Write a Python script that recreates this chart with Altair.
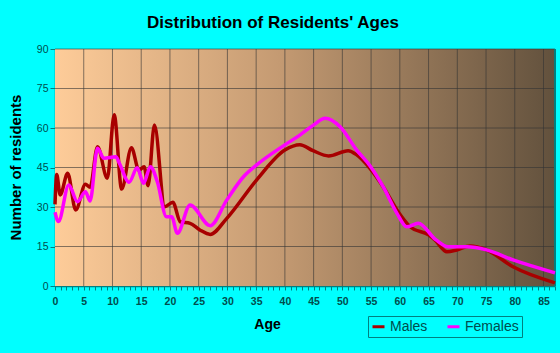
import altair as alt
import pandas as pd

# ---- data ----
males_age = [0, 0.3, 0.9, 2.2, 3.6, 5.3, 6.1, 7.4, 9.1, 10.3, 11.6, 13.3, 14.6, 15.5,
             16.2, 17.3, 19.1, 20.5, 21.8, 23.5, 25.2, 27.0, 29.9, 35.1, 40.0, 42.6,
             44.9, 47.6, 51.0, 52.5, 54.8, 57.1, 59.5, 61.8, 65.0, 66.1, 68.2, 69.9,
             72.2, 75.1, 79.7, 87.0]
males_val = [31, 42.3, 34.6, 42.8, 28.9, 38.6, 37.5, 52.9, 40.9, 65, 36.8, 52.5, 44, 45.3,
             38.1, 61.1, 30.1, 31.8, 24.4, 23.8, 21.3, 19.6, 25.7, 40.3, 51.6, 53.6,
             51.4, 49.4, 51.4, 49.8, 44.7, 37.7, 28.9, 22.5, 19.4, 17.5, 13.0, 13.7,
             15.2, 13.7, 7.3, 1.2]

females_age = [0, 0.6, 2.4, 3.9, 5.3, 6.1, 7.4, 8.5, 10.6, 11.2, 12.9, 14.3, 15.4, 16.6,
               17.8, 19.4, 20.3, 21.3, 23.5, 27.0, 29.9, 32.8, 35.1, 40.0, 42.6, 44.9,
               47.0, 49.6, 52.5, 54.8, 57.1, 59.5, 61.2, 63.2, 66.3, 68.4, 71.7, 75.1,
               79.7, 87.0]
females_val = [28, 24.5, 38.4, 32, 35.8, 32.3, 52.3, 48.5, 49.1, 46.6, 39.4, 44.9, 39, 45.3,
               39.6, 26.3, 26.3, 20, 30.8, 22.9, 32.7, 41.5, 46, 53.6, 57.3, 61,
               63.7, 60.5, 51.6, 45.7, 37.7, 27.6, 22.5, 23.8, 17.5, 14.9, 14.9, 13.7,
               9.9, 5.0]

series = ["Males", "Females"]
series_colors = ["#A80000", "#FF00FF"]

x_ticks = list(range(0, 88))
x_grid = list(range(5, 86, 5))
y_ticks = list(range(0, 91, 15))
y_grid = list(range(15, 91, 15))

df = pd.concat([
    pd.DataFrame({"age": males_age, "value": males_val, "sex": "Males"}),
    pd.DataFrame({"age": females_age, "value": females_val, "sex": "Females"}),
], ignore_index=True)

W, H = 500, 237
FONT = "Liberation Sans"
TEAL = "#008080"
LABEL = "#004D4D"

xs = alt.Scale(domain=[0, 87], nice=False, zero=False)
ys = alt.Scale(domain=[0, 90], nice=False)

x_axis = alt.Axis(
    values=x_ticks,
    labelExpr="datum.value % 5 == 0 ? datum.label : ''",
    grid=False, domainColor=TEAL, domainWidth=1.5,
    tickColor=TEAL, tickSize=4, tickWidth=1,
    labelFont=FONT, labelFontSize=10.5, labelFontWeight="bold",
    labelColor=LABEL, labelPadding=6, labelOverlap=False, labelFlush=False,
    title="Age", titleFont=FONT, titleFontSize=14, titleFontWeight="bold",
    titleColor="black", titleX=212, titleY=38, titleBaseline="middle",
    titleAlign="center",
)
y_axis = alt.Axis(
    values=y_ticks, grid=False, domainColor=TEAL, domainWidth=1.5,
    tickColor=TEAL, tickSize=5, tickWidth=1,
    labelFont=FONT, labelFontSize=10.5, labelColor=LABEL, labelPadding=2,
    title="Number of residents", titleFont=FONT, titleFontSize=15,
    titleFontWeight="bold", titleColor="black",
    titleX=-40, titleY=118, titleBaseline="middle", titleAlign="center",
)

bg = alt.Chart(pd.DataFrame({"k": [0]})).mark_rect(
    fill=alt.Gradient(
        gradient="linear",
        stops=[alt.GradientStop(color="#FECC99", offset=0),
               alt.GradientStop(color="#C49A72", offset=0.45),
               alt.GradientStop(color="#62513D", offset=1)],
        x1=0, x2=1, y1=0, y2=0,
    )
).encode(x=alt.value(0), x2=alt.value(W), y=alt.value(0), y2=alt.value(H))

vgrid = alt.Chart(pd.DataFrame({"g": x_grid})).mark_rule(
    color="#333333", opacity=0.6, strokeWidth=1
).encode(x=alt.X("g:Q", scale=xs, axis=x_axis))

hgrid = alt.Chart(pd.DataFrame({"g": y_grid})).mark_rule(
    color="#333333", opacity=0.6, strokeWidth=1
).encode(y=alt.Y("g:Q", scale=ys, axis=y_axis))

border = alt.Chart(pd.DataFrame({"k": [0]})).mark_rule(
    color=TEAL, strokeWidth=2
).encode(x=alt.value(W), y=alt.value(0), y2=alt.value(H))

lines = alt.Chart(df).mark_line(interpolate="monotone", strokeWidth=3.5).encode(
    x=alt.X("age:Q", scale=xs, axis=x_axis),
    y=alt.Y("value:Q", scale=ys, axis=y_axis),
    color=alt.Color("sex:N", scale=alt.Scale(domain=series, range=series_colors),
                    legend=alt.Legend(
                        title=None, orient="none", legendX=313, legendY=267,
                        direction="horizontal", strokeColor=TEAL, padding=3,
                        symbolType="stroke", symbolSize=144, symbolStrokeWidth=3,
                        labelFont=FONT, labelFontSize=14, labelColor=LABEL,
                        labelOffset=4, columnPadding=13,
                    )),
)

chart = alt.layer(bg, vgrid, hgrid, border, lines).properties(
    width=W, height=H,
    background="#00FFFF",
    padding={"left": 55, "top": 49, "right": 5, "bottom": 67},
    autosize=alt.AutoSizeParams(type="none"),
    title=alt.TitleParams(
        text="Distribution of Residents' Ages", font=FONT, fontSize=17,
        fontWeight="bold", color="black", anchor="middle", dx=-32,
        baseline="alphabetic", offset=-1,
    ),
).configure_view(stroke=None)

chart.save("out.html", embed_options={"renderer": "svg", "actions": False})
